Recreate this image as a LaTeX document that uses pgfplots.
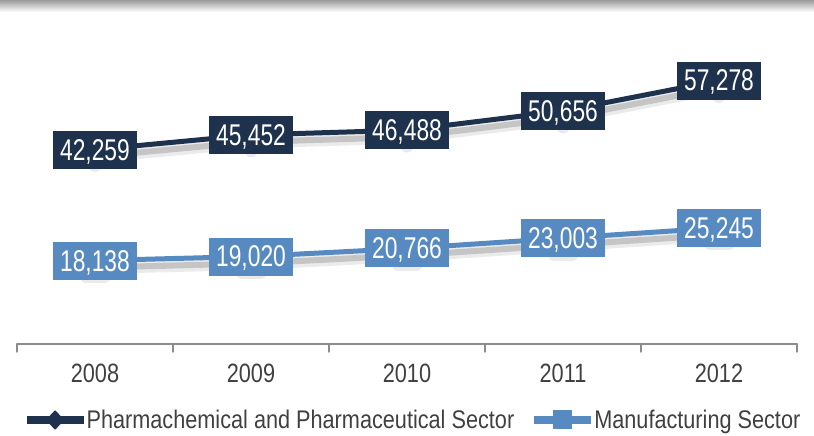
\documentclass[border=0pt]{standalone}
\usepackage{pgfplots}
\pgfplotsset{compat=1.18}
\usepackage{fontspec}
\setmainfont{Liberation Sans}
\newfontfamily\labfont{Liberation Sans}[FakeStretch=0.76]
\newfontfamily\tickfont{Liberation Sans}[FakeStretch=0.82]
\newfontfamily\legfont{Liberation Sans}[FakeStretch=0.85]
\definecolor{navy}{HTML}{1F324D}
\definecolor{lblue}{HTML}{588AC2}
\definecolor{txt}{HTML}{404040}
\definecolor{axgray}{HTML}{8C8C8C}
\begin{document}
\begin{tikzpicture}
\shade[top color=gray!75, bottom color=white] (0pt,424pt) rectangle (814pt,435.5pt);
\begin{axis}[
  at={(17pt,92pt)}, anchor=south west,
  scale only axis, width=780pt, height=322pt,
  xmin=-0.5, xmax=4.5, ymin=0, ymax=70000,
  axis y line=none, axis x line=bottom,
  x axis line style={-, axgray, line width=1.5pt},
  xtick={0,1,2,3,4}, xticklabels={2008,2009,2010,2011,2012},
  major tick length=0pt,
  minor xtick={-0.5,0.5,1.5,2.5,3.5,4.5},
  minor tick length=8pt, tick align=outside,
  minor tick style={axgray, line width=1.5pt},
  xticklabel style={font=\tickfont\fontsize{26.5}{30}\selectfont, text=txt, yshift=-16.5pt},
  clip=false,
  line cap=round, line join=round,
  legend style={at={(0.507,-0.236)}, anchor=center, draw=none, fill=none,
    legend columns=2, font=\legfont\fontsize{25.5}{30}\selectfont, text=txt,
    /tikz/every even column/.append style={column sep=14pt},
    /tikz/every odd column/.append style={column sep=-3pt}},
  legend image code/.code={
    \draw[#1, line width=8pt, mark=none] (0pt,0pt) -- (57pt,0pt);
    \draw[#1, mark size=9pt] plot coordinates {(28.5pt,0pt)};},
  nodes near coords={\pgfmathprintnumber[fixed, precision=0, 1000 sep={,}, assume math mode=true]{\pgfplotspointmeta}},
  every node near coord/.append style={anchor=center, font=\labfont\fontsize{30}{34}\selectfont, text=white, inner xsep=7.5pt, inner ysep=0pt, minimum height=38pt, text depth=0pt},
]
% shadows
\addplot[forget plot, black, opacity=0.08, line width=13pt, yshift=-7pt, mark=diamond*, mark size=9pt, nodes near coords=] coordinates {(0,42259)(1,45452)(2,46488)(3,50656)(4,57278)};
\addplot[forget plot, black, opacity=0.16, line width=6pt, yshift=-7pt, mark=none, nodes near coords=] coordinates {(0,42259)(1,45452)(2,46488)(3,50656)(4,57278)};
\addplot[forget plot, black, opacity=0.08, line width=13pt, yshift=-7pt, mark=square*, mark size=9pt, nodes near coords=] coordinates {(0,18138)(1,19020)(2,20766)(3,23003)(4,25245)};
\addplot[forget plot, black, opacity=0.16, line width=6pt, yshift=-7pt, mark=none, nodes near coords=] coordinates {(0,18138)(1,19020)(2,20766)(3,23003)(4,25245)};
% main series
\addplot[navy, line width=5pt, mark=diamond*, mark size=8pt, mark options={line width=1pt, xscale=1.3},
  every node near coord/.append style={fill=navy}]
  coordinates {(0,42259)(1,45452)(2,46488)(3,50656)(4,57278)};
\addlegendentry{Pharmachemical and Pharmaceutical Sector}
\addplot[lblue, line width=5pt, mark=square*, mark size=8pt, mark options={line width=1pt},
  every node near coord/.append style={fill=lblue}]
  coordinates {(0,18138)(1,19020)(2,20766)(3,23003)(4,25245)};
\addlegendentry{Manufacturing Sector}
\end{axis}
\pgfresetboundingbox
\useasboundingbox (0pt,0pt) rectangle (814pt,436pt);
\end{tikzpicture}
\end{document}
